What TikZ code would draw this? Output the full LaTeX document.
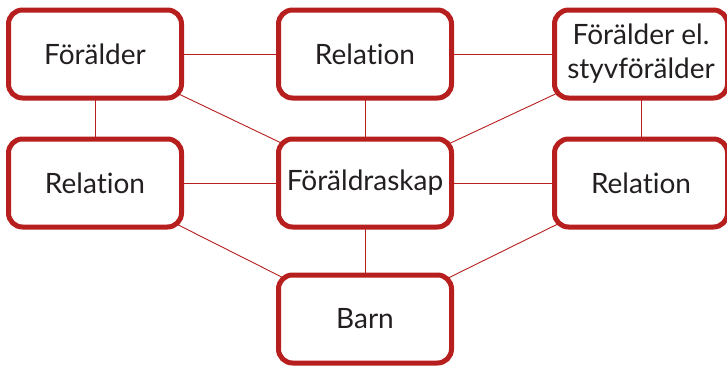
\documentclass[tikz,border=0pt]{standalone}
\usepackage{fontspec}
\setmainfont{Lato}[Ligatures=NoCommon]
\usetikzlibrary{backgrounds}
\definecolor{boxred}{RGB}{183,30,30}
\definecolor{txt}{RGB}{35,31,32}
\begin{document}
\begin{tikzpicture}[x=1pt,y=-1pt,
  box/.style={draw=boxred, line width=5pt, rounded corners=14pt, fill=white,
    minimum width=173pt, minimum height=88pt, inner sep=0pt, align=center,
    text=txt, font=\fontsize{28}{34}\selectfont},
  link/.style={draw=boxred, line width=0.9pt}]
\useasboundingbox (0,0) rectangle (727,365);
\node[box] (f1) at (95,54) {Förälder};
\node[box] (r1) at (365,54) {Relation};
\node[box] (f2) at (641,54) {Förälder el.\\styvförälder};
\node[box] (r2) at (95,183) {Relation};
\node[box] (fs) at (365,183) {Föräldraskap};
\node[box] (r3) at (641,183) {Relation};
\node[box] (b) at (365,319) {Barn};
\begin{scope}[on background layer]
\draw[link] (f1) -- (r1);
\draw[link] (r1) -- (f2);
\draw[link] (f1.center) -- (r2.center);
\draw[link] (f1.center) -- (fs.center);
\draw[link] (r1.center) -- (fs.center);
\draw[link] (f2.center) -- (fs.center);
\draw[link] (f2.center) -- (r3.center);
\draw[link] (r2.center) -- (fs.center);
\draw[link] (fs.center) -- (r3.center);
\draw[link] (r2.center) -- (b.center);
\draw[link] (fs.center) -- (b.center);
\draw[link] (r3.center) -- (b.center);
\end{scope}
\end{tikzpicture}
\end{document}
